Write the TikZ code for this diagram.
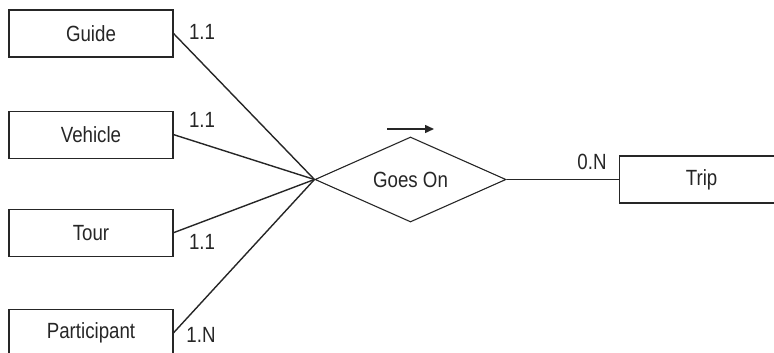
\documentclass[tikz,border=0pt]{standalone}
\usepackage{fontspec}
\setmainfont{Liberation Sans}[FakeStretch=0.85]
\usetikzlibrary{arrows.meta,positioning,shapes.geometric}

\begin{document}
\begin{tikzpicture}[
  x=1pt, y=-1pt,
  every node/.style={font=\fontsize{22}{26}\selectfont, text=black!85, inner sep=0pt},
  ent/.style={draw=black!85, minimum width=164pt, minimum height=47pt, line width=1.1pt},
  rel/.style={draw=black!85, diamond, aspect=2.25, minimum width=191pt, minimum height=85pt, line width=1.1pt},
  card/.style={font=\fontsize{22}{26}\selectfont},
  link/.style={line width=1.4pt, color=black!85},
  arr/.style={-{Triangle[length=9pt, width=8pt]}, line width=1.5pt, color=black!85},
]
  \clip (0,0) rectangle (774,353);
  \useasboundingbox (0,0) rectangle (774,353);

  \node[ent] (guide) at (91,33.5) {Guide};
  \node[ent, below=53pt of guide] (vehicle) {Vehicle};
  \node[ent, below=50pt of vehicle] (tour) {Tour};
  \node[ent, below=52pt of tour] (part) {Participant};
  \node[rel] (goes) at (410.5,179.5) {Goes On};
  \node[ent, anchor=west] (trip) at (619,179.5) {Trip};

  \node[card] (c1) at (202,32) {1.1};
  \node[card] (c2) at (202,120) {1.1};
  \node[card] (c3) at (202,242) {1.1};
  \node[card] (c4) at (201,335) {1.N};
  \node[card] (c5) at (592,162) {0.N};

  \coordinate (dirA) at (387,129);
  \coordinate (dirB) at (434,129);

  \draw[link] (guide.east) -- (goes.west);
  \draw[link] (vehicle.east) -- (goes.west);
  \draw[link] (tour.east) -- (goes.west);
  \draw[link] (part.east) -- (goes.west);
  \draw[link] (goes.east) -- (trip.west);
  \draw[arr] (dirA) -- (dirB);
\end{tikzpicture}
\end{document}
